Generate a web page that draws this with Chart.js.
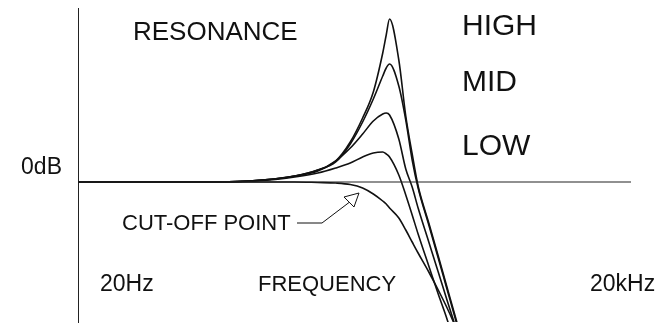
<!DOCTYPE html>
<html lang="en">
<head>
    <meta charset="UTF-8">
    <title>Resonance</title>
    <script src="https://cdn.jsdelivr.net/npm/chart.js"></script>
    <style>
        html, body {
            margin: 0;
            padding: 0;
            background: #fff;
        }
        canvas {
            display: block;
        }
    </style>
</head>
<body>
    <canvas id="resonanceChart" width="661" height="323"></canvas>

    <script>
        // frequencies (Hz) shared by every curve
        const freqs = [20, 100, 200, 300, 400, 500, 600, 700, 800, 900, 940, 980, 1100, 1200, 1300, 1400, 1600, 1800, 2000, 2200, 2400];

        // response in dB, one array per resonance setting
        const highRes   = [0, 0, 0.2, 0.6, 1.2, 2.1, 4.0, 6.4, 9.0, 12.9, 14.7, 16.3, 12.2, 6.6, 2.8, -0.4, -4.1, -7.4, -10.4, -13.1, -15.6];
        const midRes    = [0, 0, 0.2, 0.6, 1.2, 2.0, 3.8, 6.0, 8.3, 10.6, 11.4, 11.8, 9.6, 6.2, 2.2, -0.6, -4.3, -7.6, -10.6, -13.3, -15.8];
        const lowRes    = [0, 0, 0.2, 0.6, 1.1, 2.1, 3.4, 4.8, 6.1, 6.8, 6.9, 6.7, 4.3, 1.3, -0.5, -2.6, -6.0, -9.0, -11.7, -14.1, -16.5];
        const minRes    = [0, 0, 0.15, 0.5, 0.9, 1.4, 1.9, 2.5, 2.9, 3.0, 2.8, 2.5, 0.7, -1.3, -3.3, -5.2, -8.4, -11.2, -13.6, -16, -18];
        const noRes     = [0, 0, 0, 0, -0.05, -0.1, -0.25, -0.6, -1.2, -1.9, -2.2, -2.6, -3.6, -4.8, -6.0, -7.1, -9.0, -10.8, -12.5, -14.2, -16];

        const refLine = [0, 0];
        const refFreqs = [20, 20000];

        const yTicks = [0];
        const yTickLabels = ['0dB'];

        // text written on the plot
        const notes = ['RESONANCE', 'HIGH', 'MID', 'LOW', 'CUT-OFF POINT', '20Hz', 'FREQUENCY', '20kHz'];
        const noteSpots = [
            {x: 133, y: 33, size: 26},
            {x: 462, y: 27, size: 30},
            {x: 462, y: 83, size: 30},
            {x: 462, y: 147, size: 30},
            {x: 122, y: 224, size: 22},
            {x: 100, y: 285, size: 23},
            {x: 258, y: 285, size: 22},
            {x: 590, y: 285, size: 23}
        ];

        // arrow pointing at the cut-off curve (tip in Hz / dB)
        const arrowTip = {f: 669, db: -1.1};

        const toPoints = (xs, ys) => xs.map((f, i) => ({x: f, y: ys[i]}));

        const curve = (ys) => ({
            data: toPoints(freqs, ys),
            borderColor: '#111',
            borderWidth: 1.6,
            pointRadius: 0,
            cubicInterpolationMode: 'monotone',
            fill: false
        });

        const notesPlugin = {
            id: 'notes',
            afterDraw(chart) {
                const ctx = chart.ctx;
                const xs = chart.scales.x;
                const ys = chart.scales.y;
                ctx.save();
                ctx.fillStyle = '#111';
                ctx.textBaseline = 'middle';
                ctx.textAlign = 'left';
                notes.forEach((t, i) => {
                    const s = noteSpots[i];
                    ctx.font = s.size + 'px "Liberation Sans", Arial, sans-serif';
                    ctx.fillText(t, s.x, s.y);
                });

                // leader line + open arrow head
                const tx = xs.getPixelForValue(arrowTip.f);
                const ty = ys.getPixelForValue(arrowTip.db);
                ctx.strokeStyle = '#111';
                ctx.lineWidth = 1;
                ctx.beginPath();
                ctx.moveTo(297, 223);
                ctx.lineTo(322, 223);
                ctx.lineTo(tx - 8, ty + 8);
                ctx.stroke();
                ctx.beginPath();
                ctx.moveTo(tx, ty);
                ctx.lineTo(tx - 15, ty + 4);
                ctx.lineTo(tx - 5, ty + 14);
                ctx.closePath();
                ctx.fillStyle = '#fff';
                ctx.fill();
                ctx.stroke();
                ctx.restore();
            }
        };

        new Chart(document.getElementById('resonanceChart'), {
            type: 'line',
            data: {
                datasets: [
                    {
                        data: toPoints(refFreqs, refLine),
                        borderColor: '#222',
                        borderWidth: 1.2,
                        pointRadius: 0
                    },
                    curve(highRes),
                    curve(midRes),
                    curve(lowRes),
                    curve(minRes),
                    curve(noRes)
                ]
            },
            options: {
                responsive: false,
                animation: false,
                layout: {
                    padding: {top: 8, right: 30, bottom: 1, left: 0}
                },
                plugins: {
                    legend: {display: false},
                    tooltip: {enabled: false}
                },
                scales: {
                    x: {
                        type: 'logarithmic',
                        min: 20,
                        max: 20000,
                        display: false
                    },
                    y: {
                        min: -14,
                        max: 17.4,
                        afterFit: (scale) => {
                            scale.width = 78;
                            scale.paddingTop = 0;
                            scale.paddingBottom = 0;
                        },
                        afterBuildTicks: (scale) => {
                            scale.ticks = yTicks.map(v => ({value: v}));
                        },
                        grid: {display: false, drawTicks: false},
                        border: {display: true, color: '#222', width: 1},
                        ticks: {
                            padding: 16,
                            labelOffset: -14,
                            color: '#111',
                            font: {family: '"Liberation Sans", Arial, sans-serif', size: 23},
                            callback: (v, i) => yTickLabels[i]
                        }
                    }
                }
            },
            plugins: [notesPlugin]
        });
    </script>
</body>
</html>
